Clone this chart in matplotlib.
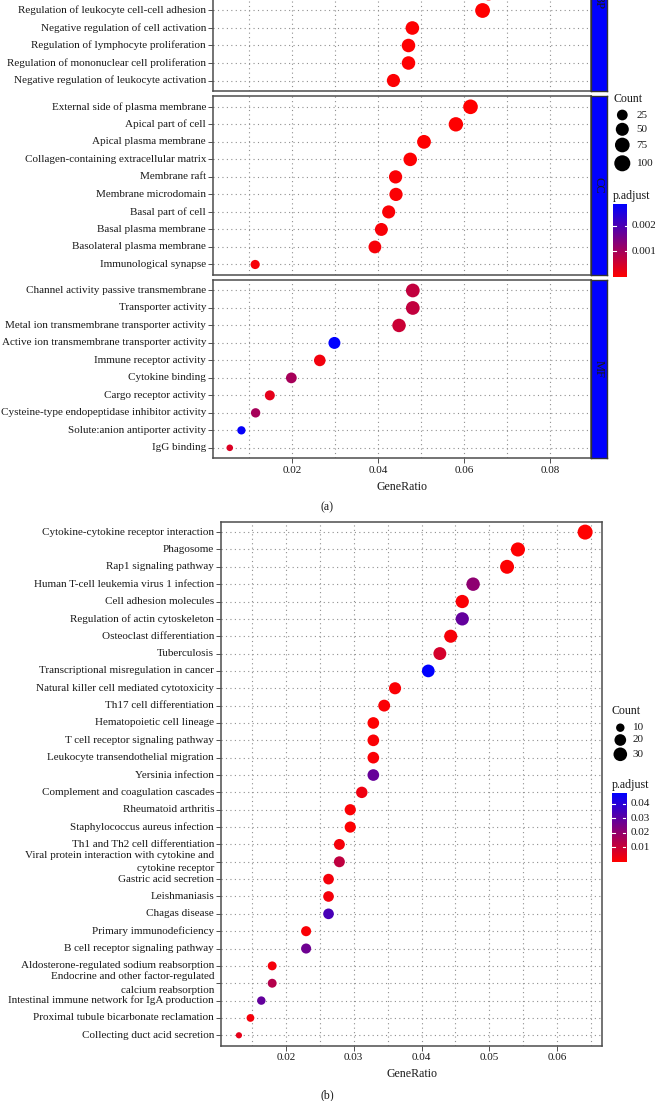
import numpy as np
import matplotlib
matplotlib.use("Agg")
import matplotlib.pyplot as plt
from matplotlib.colors import LinearSegmentedColormap, Normalize

# ------------------------------------------------------------------ data (a)
# BP panel (top rows are cut off in the reference; first entry's label is not visible)
bp_terms = ["",
            "Regulation of leukocyte cell-cell adhesion",
            "Negative regulation of cell activation",
            "Regulation of lymphocyte proliferation",
            "Regulation of mononuclear cell proliferation",
            "Negative regulation of leukocyte activation"]
bp_ratio = [0.0657, 0.0643, 0.0480, 0.0471, 0.0471, 0.0436]
bp_count = [79, 77, 58, 57, 57, 52]
bp_padj = [0.00002, 0.00001, 0.00003, 0.00002, 0.00002, 0.00004]

cc_terms = ["External side of plasma membrane", "Apical part of cell",
            "Apical plasma membrane", "Collagen-containing extracellular matrix",
            "Membrane raft", "Membrane microdomain", "Basal part of cell",
            "Basal plasma membrane", "Basolateral plasma membrane",
            "Immunological synapse"]
cc_ratio = [0.0615, 0.0581, 0.0507, 0.0475, 0.0441, 0.0442, 0.0425, 0.0408, 0.0393, 0.0115]
cc_count = [74, 70, 61, 57, 53, 53, 51, 49, 47, 14]
cc_padj = [0.00001, 0.00002, 0.00002, 0.00003, 0.00005, 0.00005, 0.00006,
           0.00008, 0.0001, 0.0001]

mf_terms = ["Channel activity passive transmembrane", "Transporter activity",
            "Metal ion transmembrane transporter activity",
            "Active ion transmembrane transporter activity",
            "Immune receptor activity", "Cytokine binding",
            "Cargo receptor activity",
            "Cysteine-type endopeptidase inhibitor activity",
            "Solute:anion antiporter activity", "IgG binding"]
mf_ratio = [0.0481, 0.0481, 0.0449, 0.0299, 0.0265, 0.0199, 0.0149, 0.0116, 0.0083, 0.0056]
mf_count = [60, 60, 56, 37, 33, 25, 19, 15, 10, 7]
mf_padj = [0.0007, 0.0007, 0.0006, 0.00285, 0.00015, 0.0010, 0.0003, 0.0010, 0.0028, 0.0004]

a_xticks = [0.02, 0.04, 0.06, 0.08]
a_xticklabels = ["0.02", "0.04", "0.06", "0.08"]
a_count_breaks = [25, 50, 75, 100]
a_padj_breaks = [0.001, 0.002]
a_padj_labels = ["0.001", "0.002"]

# ------------------------------------------------------------------ data (b)
kegg_terms = ["Cytokine-cytokine receptor interaction", "Phagosome",
              "Rap1 signaling pathway", "Human T-cell leukemia virus 1 infection",
              "Cell adhesion molecules", "Regulation of actin cytoskeleton",
              "Osteoclast differentiation", "Tuberculosis",
              "Transcriptional misregulation in cancer",
              "Natural killer cell mediated cytotoxicity",
              "Th17 cell differentiation", "Hematopoietic cell lineage",
              "T cell receptor signaling pathway",
              "Leukocyte transendothelial migration", "Yersinia infection",
              "Complement and coagulation cascades", "Rheumatoid arthritis",
              "Staphylococcus aureus infection", "Th1 and Th2 cell differentiation",
              "Viral protein interaction with cytokine and\ncytokine receptor",
              "Gastric acid secretion", "Leishmaniasis", "Chagas disease",
              "Primary immunodeficiency", "B cell receptor signaling pathway",
              "Aldosterone-regulated sodium reabsorption",
              "Endocrine and other factor-regulated\ncalcium reabsorption",
              "Intestinal immune network for IgA production",
              "Proximal tubule bicarbonate reclamation",
              "Collecting duct acid secretion"]
kegg_ratio = [0.0641, 0.0542, 0.0526, 0.0476, 0.0460, 0.0460, 0.0443, 0.0427,
              0.0410, 0.0361, 0.0345, 0.0329, 0.0329, 0.0329, 0.0329, 0.0312,
              0.0295, 0.0295, 0.0279, 0.0279, 0.0263, 0.0263, 0.0263, 0.0230,
              0.0230, 0.0180, 0.0180, 0.0164, 0.0148, 0.0131]
kegg_count = [39, 33, 32, 29, 28, 28, 27, 26, 25, 22, 21, 20, 20, 20, 20, 19,
              18, 18, 17, 17, 16, 16, 16, 14, 14, 11, 11, 10, 9, 8]
kegg_padj = [0.0001, 0.0002, 0.0005, 0.021, 0.001, 0.029, 0.0015, 0.008,
             0.0475, 0.0008, 0.001, 0.0003, 0.001, 0.001, 0.0285, 0.003,
             0.0008, 0.0005, 0.002, 0.012, 0.002, 0.002, 0.034, 0.001,
             0.027, 0.002, 0.014, 0.029, 0.002, 0.005]

b_xticks = [0.02, 0.03, 0.04, 0.05, 0.06]
b_xticklabels = ["0.02", "0.03", "0.04", "0.05", "0.06"]
b_count_breaks = [10, 20, 30]
b_padj_breaks = [0.01, 0.02, 0.03, 0.04]
b_padj_labels = ["0.01", "0.02", "0.03", "0.04"]

# ------------------------------------------------------------------ style
W, H, DPI = 655, 1101, 100
plt.rcParams["font.family"] = ["Liberation Serif", "DejaVu Serif"]
CMAP = LinearSegmentedColormap.from_list("rb", ["#FF0000", "#0000FF"])
TXT = "#1a1a1a"
FS = 8.0
FS_TITLE = 8.6
BORDER = "#4d4d4d"
GRID = dict(color="#8f8f8f", linestyle=(0, (1, 3)), linewidth=0.8)

fig = plt.figure(figsize=(W / DPI, H / DPI), dpi=DPI)


def rect(x0, y0, x1, y1):
    return [x0 / W, 1 - y1 / H, (x1 - x0) / W, (y1 - y0) / H]


def make_size(cmin, cmax, dmin, dmax):
    def f(c):
        c = np.asarray(c, dtype=float)
        t = np.clip((c - cmin) / (cmax - cmin), 0, 1)
        d_px = dmin + (dmax - dmin) * np.sqrt(t)
        return (d_px * 72.0 / DPI) ** 2
    return f


def panel(r, terms, ratio, count, padj, nslots, norm, sizefn, xlim,
          major, minor, show_x, xlabels=None):
    ax = fig.add_axes(r)
    n = len(terms)
    ys = np.arange(n, 0, -1)
    ax.scatter(ratio, ys, s=sizefn(count), c=padj, cmap=CMAP, norm=norm,
               edgecolors="none", zorder=3)
    ax.set_xlim(*xlim)
    ax.set_ylim(0.4, nslots + 0.6)
    ax.set_yticks(ys)
    ax.set_yticklabels(terms, fontsize=FS, color=TXT, linespacing=1.6)
    for lab in ax.get_yticklabels():
        lab.set_va("center")
    ax.set_xticks(major)
    ax.set_xticks(minor, minor=True)
    ax.set_axisbelow(True)
    ax.grid(True, which="both", axis="x", **GRID)
    ax.grid(True, which="major", axis="y", **GRID)
    ax.tick_params(axis="y", length=3.3, width=0.6, color="#333333", pad=2)
    ax.tick_params(axis="x", which="minor", length=0)
    if show_x:
        ax.set_xticklabels(xlabels, fontsize=FS, color=TXT)
        ax.tick_params(axis="x", which="major", length=3.3, width=0.6,
                       color="#333333", pad=2)
    else:
        ax.tick_params(axis="x", which="major", length=0, labelbottom=False)
    for sp in ax.spines.values():
        sp.set_color(BORDER)
        sp.set_linewidth(1.1)
    return ax


def strip(r, label):
    s = fig.add_axes(r)
    s.set_facecolor("#0000FF")
    s.set_xticks([])
    s.set_yticks([])
    for sp in s.spines.values():
        sp.set_color("#333333")
        sp.set_linewidth(1.0)
    s.text(0.5, 0.5, label, rotation=-90, ha="center", va="center",
           fontsize=9, color="#1a1a1a", transform=s.transAxes)


def colorbar(x0, y0, x1, y1, vmin, vmax, breaks, labels):
    cax = fig.add_axes(rect(x0, y0, x1, y1))
    grad = np.linspace(vmin, vmax, 300)[:, None]
    cax.imshow(grad, cmap=CMAP, norm=Normalize(vmin, vmax), origin="lower",
               extent=[0, 1, vmin, vmax], aspect="auto")
    cax.set_xlim(0, 1)
    cax.set_ylim(vmin, vmax)
    cax.axis("off")
    for b, lab in zip(breaks, labels):
        cax.plot([0, 0.2], [b, b], color="white", lw=0.8)
        cax.plot([0.8, 1], [b, b], color="white", lw=0.8)
        cax.text(1.3, b, lab, ha="left", va="center", fontsize=FS, color=TXT,
                 transform=cax.transData, clip_on=False)


# ------------------------------------------------------------------ chart (a)
a_norm = Normalize(0.0, 0.00286)
a_size = make_size(7, 103, 6.6, 16.2)
a_xlim = (0.0018, 0.0895)
a_minor = np.arange(0.01, 0.09, 0.01)
XL, XR, SR = 213.4, 591.1, 606.5

panel(rect(XL, -87.5, XR, 91.0), bp_terms, bp_ratio, bp_count, bp_padj, 10,
      a_norm, a_size, a_xlim, a_xticks, a_minor, False)
strip(rect(XR, -87.5, SR, 91.0), "BP")
panel(rect(XL, 96.3, XR, 275.0), cc_terms, cc_ratio, cc_count, cc_padj, 10,
      a_norm, a_size, a_xlim, a_xticks, a_minor, False)
strip(rect(XR, 96.3, SR, 275.0), "CC")
panel(rect(XL, 280.0, XR, 458.3), mf_terms, mf_ratio, mf_count, mf_padj, 10,
      a_norm, a_size, a_xlim, a_xticks, a_minor, True, a_xticklabels)
strip(rect(XR, 280.0, SR, 458.3), "MF")

colorbar(613.3, 204.0, 627.3, 276.7, 0.0, 0.00286, a_padj_breaks, a_padj_labels)

# ------------------------------------------------------------------ chart (b)
b_norm = Normalize(0.0, 0.0475)
b_size = make_size(8, 39, 6.2, 15.0)
b_minor = np.arange(0.015, 0.067, 0.005)
panel(rect(221.4, 521.7, 602.3, 1045.7), kegg_terms, kegg_ratio, kegg_count,
      kegg_padj, 30, b_norm, b_size, (0.01052, 0.06663), b_xticks, b_minor,
      True, b_xticklabels)

colorbar(611.7, 792.7, 626.0, 861.7, 0.0, 0.0475, b_padj_breaks, b_padj_labels)

# ------------------------------------------------------------------ overlay texts / legends
ov = fig.add_axes([0, 0, 1, 1])
ov.set_xlim(0, W)
ov.set_ylim(H, 0)
ov.axis("off")

ov.text(402, 486.7, "GeneRatio", ha="center", va="center", fontsize=FS_TITLE, color=TXT)
ov.text(327.5, 507.3, "(a)", ha="center", va="center", fontsize=FS_TITLE, color=TXT)
ov.text(412, 1074, "GeneRatio", ha="center", va="center", fontsize=FS_TITLE, color=TXT)
ov.text(327.5, 1095, "(b)", ha="center", va="center", fontsize=FS_TITLE, color=TXT)

# legend (a)
ov.text(613, 99.3, "Count", ha="left", va="center", fontsize=FS_TITLE, color=TXT)
a_leg_y = [115, 129.3, 145, 163.3]
ov.scatter([622.3] * len(a_count_breaks), a_leg_y, s=a_size(a_count_breaks),
           color="black", edgecolors="none")
for yy, c in zip(a_leg_y, a_count_breaks):
    ov.text(636.7, yy, str(c), ha="left", va="center", fontsize=FS, color=TXT)
ov.text(613, 196, "p.adjust", ha="left", va="center", fontsize=FS_TITLE, color=TXT)

# legend (b)
ov.text(611.7, 710.7, "Count", ha="left", va="center", fontsize=FS_TITLE, color=TXT)
b_leg_y = [727.7, 740, 754.3]
ov.scatter([620.3] * len(b_count_breaks), b_leg_y, s=b_size(b_count_breaks),
           color="black", edgecolors="none")
for yy, c in zip(b_leg_y, b_count_breaks):
    ov.text(632.7, yy, str(c), ha="left", va="center", fontsize=FS, color=TXT)
ov.text(611.7, 785, "p.adjust", ha="left", va="center", fontsize=FS_TITLE, color=TXT)

fig.savefig("out.png", dpi=DPI)
